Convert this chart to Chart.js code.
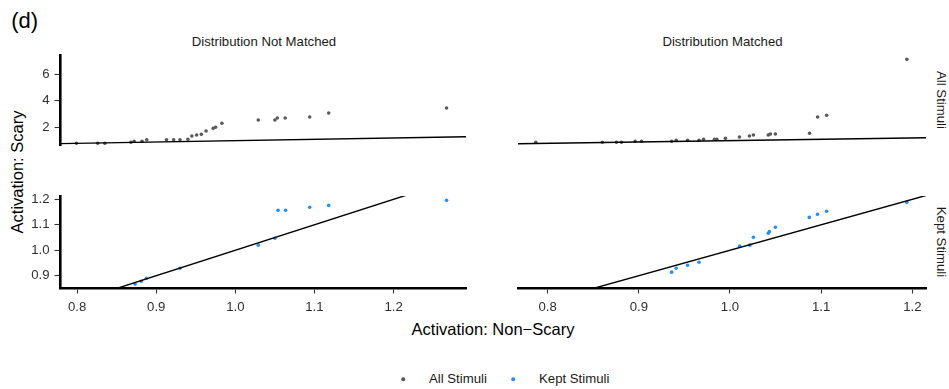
<!DOCTYPE html>
<html>
<head>
<meta charset="utf-8">
<script src="https://cdn.jsdelivr.net/npm/chart.js@4.4.1/dist/chart.umd.min.js"></script>
<style>
  html, body { margin: 0; padding: 0; background: #fff; }
  #fig { position: relative; width: 949px; height: 389px; overflow: hidden;
         font-family: "Liberation Sans", Arial, Helvetica, sans-serif; }
  #fig canvas { position: absolute; }
  .t { position: absolute; white-space: nowrap; line-height: 1; transform: translate(-50%, -50%); }
  .strip { font-size: 13.2px; color: #1a1a1a; }
  .axt { font-size: 16.5px; color: #000; }
  .leg { position: absolute; white-space: nowrap; line-height: 1; font-size: 13.2px; color: #1a1a1a; transform: translateY(-50%); }
  .dot { position: absolute; width: 3.6px; height: 3.6px; border-radius: 50%; transform: translate(-50%, -50%); }
</style>
</head>
<body>
<div id="fig">
  <div style="position:absolute;left:11.2px;top:10px;font-size:22px;line-height:1;">(d)</div>

  <div class="t strip" style="left:264px;top:41.7px;">Distribution Not Matched</div>
  <div class="t strip" style="left:722.5px;top:41.7px;">Distribution Matched</div>
  <div class="t strip" style="left:940.5px;top:100px;transform:translate(-50%,-50%) rotate(90deg);">All Stimuli</div>
  <div class="t strip" style="left:940.5px;top:242px;transform:translate(-50%,-50%) rotate(90deg);">Kept Stimuli</div>

  <div class="t axt" style="left:16.5px;top:171.7px;transform:translate(-50%,-50%) rotate(-90deg);">Activation: Scary</div>
  <div class="t axt" style="left:493px;top:329.2px;">Activation: Non&#8722;Scary</div>

  <canvas id="tl"></canvas>
  <canvas id="tr"></canvas>
  <canvas id="bl"></canvas>
  <canvas id="br"></canvas>

  <div class="dot" style="left:403.3px;top:379.3px;background:#595959;"></div>
  <div class="leg" style="left:429px;top:379.3px;">All Stimuli</div>
  <div class="dot" style="left:513.3px;top:379.3px;background:#1e90ff;"></div>
  <div class="leg" style="left:539px;top:379.3px;">Kept Stimuli</div>
</div>

<script>
// Quantile pairs: activation to non-scary (x) vs scary (y) stimuli
const notMatchedAllX = [0.799, 0.826, 0.835, 0.868, 0.872, 0.882, 0.888, 0.913, 0.922, 0.930, 0.940, 0.945, 0.951,
                        0.957, 0.963, 0.972, 0.975, 0.983, 1.029, 1.050, 1.053, 1.063, 1.094, 1.118, 1.267];
const notMatchedAllY = [0.80, 0.80, 0.80, 0.875, 0.95, 0.95, 1.07, 1.07, 1.07, 1.07, 1.10, 1.35, 1.42,
                        1.47, 1.72, 1.92, 2.00, 2.30, 2.55, 2.55, 2.70, 2.70, 2.77, 3.07, 3.45];

const matchedAllX = [0.787, 0.860, 0.8755, 0.881, 0.896, 0.903, 0.936, 0.941, 0.9535, 0.966, 0.971, 0.983,
                     0.9856, 0.995, 1.0104, 1.0213, 1.0257, 1.042, 1.0443, 1.0498, 1.0873, 1.0961, 1.106, 1.194];
const matchedAllY = [0.875, 0.875, 0.875, 0.875, 0.95, 0.95, 0.95, 1.02, 1.02, 1.02, 1.10, 1.10,
                     1.10, 1.17, 1.27, 1.35, 1.42, 1.42, 1.50, 1.50, 1.55, 2.77, 2.90, 7.10];

const notMatchedKeptX = [0.8733, 0.881, 0.8875, 0.930, 1.029, 1.050, 1.054, 1.0635, 1.094, 1.118, 1.267];
const notMatchedKeptY = [0.867, 0.878, 0.890, 0.929, 1.020, 1.047, 1.157, 1.157, 1.169, 1.176, 1.196];

const matchedKeptX = [0.936, 0.941, 0.9535, 0.966, 1.0107, 1.0217, 1.0257, 1.042, 1.0432, 1.0498, 1.087, 1.096, 1.106, 1.194];
const matchedKeptY = [0.914, 0.929, 0.941, 0.953, 1.016, 1.020, 1.051, 1.067, 1.073, 1.090, 1.129, 1.141, 1.153, 1.188];

// Reference line y = x, spanning past every panel's x range
const identitySpan = [0.6, 1.4];

// Axis ranges (free x per column, free y per row) and tick values
const notMatchedXRange = [0.7783, 1.2916];
const matchedXRange = [0.7675, 1.2150];
const allYRange = [0.672, 7.426];
const keptYRange = [0.8517, 1.213];
const xTicks = [0.8, 0.9, 1.0, 1.1, 1.2];
const allYTicks = [2, 4, 6];
const keptYTicks = [0.9, 1.0, 1.1, 1.2];

const FONT = '"Liberation Sans", Arial, Helvetica, sans-serif';
const GREY = '#595959';
const BLUE = '#1e90ff';

function toPoints(xs, ys) { return xs.map((x, i) => ({ x: x, y: ys[i] })); }

function axis(range, ticks, shown, side, fmt) {
  const s = {
    type: 'linear', min: range[0], max: range[1], display: shown,
    afterBuildTicks: sc => { sc.ticks = ticks.map(v => ({ value: v })); },
    grid: { display: true, drawOnChartArea: false, drawTicks: true, tickLength: 5.5, tickWidth: 1.1, tickColor: '#333' },
    border: { display: true, width: 2.6, color: '#000' },
    ticks: { padding: side === 'x' ? 5.5 : 5, color: '#303030', font: { family: FONT, size: 13.2 },
             autoSkip: false, maxRotation: 0, minRotation: 0, callback: v => fmt(v) }
  };
  if (shown) {
    s.afterFit = sc => {
      if (side === 'x') sc.height = 42; else sc.width = 60;
      sc.paddingLeft = 0; sc.paddingRight = 0; sc.paddingTop = 0; sc.paddingBottom = 0;
    };
  }
  return s;
}

function panel(id, box, pad, pts, color, xr, yr, showX, showY, yTicks, yFmt) {
  const cv = document.getElementById(id);
  cv.width = box[2]; cv.height = box[3];
  cv.style.left = box[0] + 'px'; cv.style.top = box[1] + 'px';
  cv.style.width = box[2] + 'px'; cv.style.height = box[3] + 'px';
  return new Chart(cv, {
    type: 'scatter',
    data: {
      datasets: [
        { type: 'line', data: identitySpan.map(v => ({ x: v, y: v })), borderColor: '#000',
          borderWidth: 1.4, pointRadius: 0, fill: false, clip: 0 },
        { data: pts, backgroundColor: color, borderWidth: 0, pointRadius: 1.8, clip: false }
      ]
    },
    options: {
      responsive: false, animation: false, events: [],
      layout: { padding: pad },
      plugins: { legend: { display: false }, tooltip: { enabled: false } },
      scales: {
        x: axis(xr, xTicks, showX, 'x', v => v.toFixed(1)),
        y: axis(yr, yTicks, showY, 'y', yFmt)
      }
    }
  });
}

const fmtInt = v => String(v);
const fmt1 = v => v.toFixed(1);

panel('tl', [0, 50, 470, 100], { left: 0, right: 1, top: 5, bottom: 5 },
      toPoints(notMatchedAllX, notMatchedAllY), GREY, notMatchedXRange, allYRange, false, true, allYTicks, fmtInt);
panel('tr', [510, 50, 420, 100], { left: 8, right: 3, top: 5, bottom: 5 },
      toPoints(matchedAllX, matchedAllY), GREY, matchedXRange, allYRange, false, false, allYTicks, fmtInt);
panel('bl', [0, 190, 470, 140], { left: 0, right: 1, top: 6, bottom: 0 },
      toPoints(notMatchedKeptX, notMatchedKeptY), BLUE, notMatchedXRange, keptYRange, true, true, keptYTicks, fmt1);
panel('br', [510, 190, 420, 140], { left: 8, right: 3, top: 6, bottom: 0 },
      toPoints(matchedKeptX, matchedKeptY), BLUE, matchedXRange, keptYRange, true, false, keptYTicks, fmt1);
</script>
</body>
</html>
